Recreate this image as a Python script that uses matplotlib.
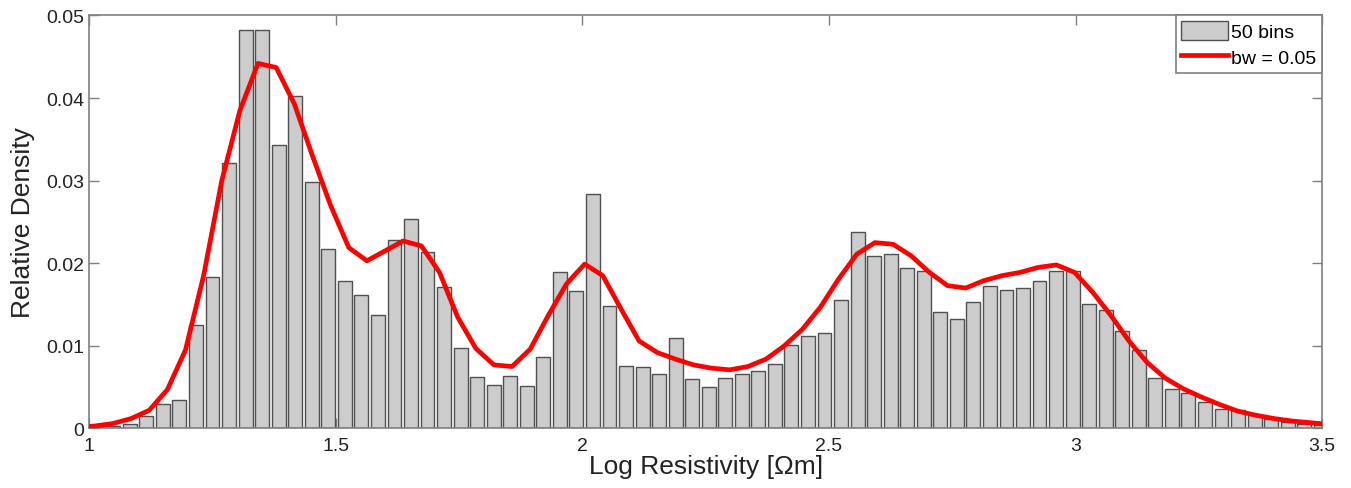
import numpy as np
import matplotlib.pyplot as plt

plt.rcParams['font.family'] = ['Liberation Sans', 'DejaVu Sans']

# histogram of log resistivity, relative frequency per bin
x_min, x_max, n_bins = 0.998, 3.514, 75
hist_vals = [
    0.0002, 0.0003, 0.0006, 0.0015, 0.0030, 0.0035, 0.0125, 0.0184, 0.0322, 0.0483,
    0.0483, 0.0343, 0.0402, 0.0298, 0.0217, 0.0179, 0.0162, 0.0137, 0.0228, 0.0254,
    0.0214, 0.0171, 0.0098, 0.0062, 0.0053, 0.0063, 0.0051, 0.0086, 0.0189, 0.0166,
    0.0284, 0.0148, 0.0076, 0.0074, 0.0066, 0.0110, 0.0060, 0.0050, 0.0061, 0.0066,
    0.0069, 0.0078, 0.0101, 0.0112, 0.0115, 0.0156, 0.0238, 0.0209, 0.0211, 0.0194,
    0.0191, 0.0141, 0.0132, 0.0153, 0.0173, 0.0168, 0.0170, 0.0179, 0.0191, 0.0191,
    0.0151, 0.0143, 0.0118, 0.0095, 0.0061, 0.0048, 0.0043, 0.0032, 0.0024, 0.0022,
    0.0016, 0.0012, 0.0008, 0.0006, 0.0004,
]

# kernel density estimate (bw = 0.05) on its evaluation grid
kde_lo, kde_hi = 0.974, 3.513
kde_vals = [
    0.0001, 0.0003, 0.0006, 0.0012, 0.0022, 0.0047, 0.0095, 0.0185, 0.0300, 0.0385,
    0.0442, 0.0437, 0.0393, 0.0330, 0.0270, 0.0219, 0.0203, 0.0215, 0.0227, 0.0221,
    0.0189, 0.0135, 0.0097, 0.0077, 0.0075, 0.0096, 0.0137, 0.0175, 0.0199, 0.0185,
    0.0145, 0.0106, 0.0092, 0.0084, 0.0077, 0.0073, 0.0071, 0.0075, 0.0084, 0.0100,
    0.0120, 0.0147, 0.0181, 0.0211, 0.0225, 0.0223, 0.0209, 0.0189, 0.0173, 0.0170,
    0.0179, 0.0185, 0.0189, 0.0195, 0.0198, 0.0189, 0.0165, 0.0137, 0.0106, 0.0080,
    0.0061, 0.0048, 0.0038, 0.0029, 0.0021, 0.0016, 0.0012, 0.0009, 0.0007, 0.0005,
]

xticks = [1, 1.5, 2, 2.5, 3, 3.5]
xtick_labels = ['1', '1.5', '2', '2.5', '3', '3.5']
yticks = [0, 0.01, 0.02, 0.03, 0.04, 0.05]
ytick_labels = ['0', '0.01', '0.02', '0.03', '0.04', '0.05']

edges = np.linspace(x_min, x_max, n_bins + 1)
centers = 0.5 * (edges[:-1] + edges[1:])
step = edges[1] - edges[0]
kde_x = np.linspace(kde_lo, kde_hi, len(kde_vals))

fig = plt.figure(figsize=(13.51, 4.89), dpi=100)
ax = fig.add_axes([0.0662, 0.1217, 0.9124, 0.8446])

bars = ax.bar(centers, hist_vals, width=step * 0.84, color='#cccccc',
              edgecolor='#505050', linewidth=1.0, zorder=2)
line, = ax.plot(kde_x, kde_vals, color='#ff0000', linewidth=3.4, zorder=3)

ax.set_xlim(1, 3.5)
ax.set_ylim(0, 0.05)
ax.set_xticks(xticks)
ax.set_xticklabels(xtick_labels)
ax.set_yticks(yticks)
ax.set_yticklabels(ytick_labels)

ax.tick_params(direction='in', length=7, width=1, color='#808080',
               labelsize=14, labelcolor='#222222', top=True, right=True)
ax.tick_params(axis='x', pad=6)
for sp in ax.spines.values():
    sp.set_color('#808080')
    sp.set_linewidth(1.2)

ax.set_xlabel('Log Resistivity [Ωm]', fontsize=19, color='#222222', labelpad=0)
ax.set_ylabel('Relative Density', fontsize=19, color='#222222', labelpad=8)

leg = ax.legend([bars, line], ['50 bins', 'bw = 0.05'], loc='upper right',
                borderaxespad=0, fancybox=False, framealpha=1,
                edgecolor='#808080', fontsize=14, handlelength=2.4,
                handleheight=1.1, handletextpad=0.15, borderpad=0.3,
                labelspacing=0.3)
leg.get_frame().set_linewidth(1.2)

fig.savefig('out.png', dpi=100)
